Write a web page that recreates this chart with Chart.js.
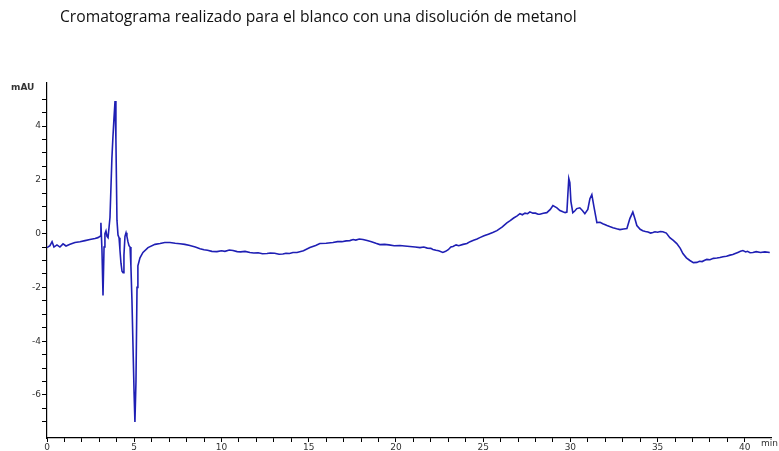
<!DOCTYPE html>
<html>
<head>
<meta charset="utf-8">
<script src="https://cdn.jsdelivr.net/npm/chart.js@4"></script>
<style>
  html, body { margin: 0; padding: 0; background: #fff; }
  #wrap { width: 779px; height: 451px; }
</style>
</head>
<body>
<div id="wrap"><canvas id="chroma"></canvas></div>
<script>
const title = 'Cromatograma realizado para el blanco con una disolución de metanol';
const yUnit = 'mAU';
const xUnit = 'min';
const xTickLabels = [0, 5, 10, 15, 20, 25, 30, 35, 40];
const yTickLabels = [-6, -4, -2, 0, 2, 4];

// retention time (min) and absorbance (mAU)
const times = [
  0.00, 0.17, 0.29, 0.40, 0.57, 0.74, 0.92, 1.09, 1.32, 1.60, 1.89, 2.18, 2.46, 2.75, 2.92,
  3.04, 3.09, 3.15, 3.21, 3.27, 3.32, 3.38, 3.44, 3.50, 3.61, 3.72, 3.78, 3.84, 3.90, 3.95,
  4.01, 4.07, 4.13, 4.18, 4.24, 4.30, 4.36, 4.41, 4.47, 4.53, 4.58, 4.64, 4.70, 4.76, 4.81,
  4.87, 4.93, 4.99, 5.04, 5.10, 5.16, 5.21, 5.33, 5.50, 5.79, 6.19, 6.48, 6.75, 7.05, 7.35,
  7.62, 7.90, 8.19, 8.50, 8.77, 9.00, 9.20, 9.45, 9.74, 10.00, 10.20, 10.45, 10.66, 10.90,
  11.10, 11.35, 11.63, 11.85, 12.10, 12.35, 12.61, 12.80, 13.05, 13.30, 13.52, 13.70, 13.90,
  14.10, 14.33, 14.70, 15.07, 15.40, 15.64, 16.00, 16.39, 16.65, 16.90, 17.15, 17.36, 17.55,
  17.70, 17.90, 18.11, 18.35, 18.60, 18.85, 19.08, 19.35, 19.60, 19.90, 20.23, 20.50, 20.80,
  21.10, 21.38, 21.60, 21.80, 22.00, 22.12, 22.30, 22.45, 22.69, 22.85, 23.00, 23.15, 23.27,
  23.45, 23.60, 23.85, 24.07, 24.25, 24.45, 24.65, 24.81, 25.05, 25.30, 25.55, 25.79, 26.10,
  26.36, 26.55, 26.75, 26.95, 27.11, 27.25, 27.40, 27.55, 27.68, 27.85, 28.00, 28.15, 28.25,
  28.45, 28.65, 28.85, 29.00, 29.23, 29.40, 29.57, 29.70, 29.80, 29.86, 29.91, 29.97, 30.03,
  30.14, 30.25, 30.37, 30.54, 30.70, 30.83, 31.00, 31.12, 31.23, 31.35, 31.52, 31.70, 31.86,
  32.00, 32.10, 32.25, 32.44, 32.65, 32.84, 33.05, 33.24, 33.41, 33.58, 33.70, 33.81, 34.00,
  34.15, 34.30, 34.45, 34.60, 34.73, 34.85, 35.00, 35.15, 35.30, 35.50, 35.70, 35.90, 36.10,
  36.30, 36.45, 36.65, 36.85, 37.05, 37.25, 37.40, 37.55, 37.70, 37.82, 38.00, 38.20, 38.40,
  38.57, 38.75, 38.95, 39.15, 39.31, 39.45, 39.60, 39.75, 39.89, 40.05, 40.15, 40.30, 40.46,
  40.65, 40.90, 41.15, 41.43
];
const mau = [
  -0.52, -0.45, -0.30, -0.50, -0.42, -0.50, -0.38, -0.46, -0.40, -0.33, -0.30, -0.26, -0.22, -0.18, -0.15,
  -0.10, 0.40, -0.60, -2.30, -0.50, 0.00, 0.10, -0.10, -0.15, 0.60, 2.80, 3.60, 4.30, 4.93, 3.50,
  0.50, -0.05, -0.15, -0.60, -1.10, -1.40, -1.45, -0.80, -0.10, 0.03, -0.10, -0.30, -0.45, -0.50, -1.20,
  -2.50, -4.20, -5.90, -7.00, -5.50, -2.00, -1.20, -0.90, -0.70, -0.52, -0.40, -0.37, -0.33, -0.33, -0.36,
  -0.38, -0.40, -0.44, -0.50, -0.56, -0.60, -0.62, -0.66, -0.67, -0.64, -0.66, -0.61, -0.63, -0.67,
  -0.68, -0.66, -0.70, -0.72, -0.71, -0.75, -0.74, -0.72, -0.73, -0.77, -0.76, -0.73, -0.74,
  -0.70, -0.70, -0.64, -0.52, -0.44, -0.37, -0.36, -0.33, -0.30, -0.30, -0.27, -0.26, -0.22,
  -0.24, -0.20, -0.22, -0.26, -0.30, -0.36, -0.41, -0.40, -0.42, -0.45, -0.44, -0.46, -0.48,
  -0.50, -0.52, -0.50, -0.54, -0.55, -0.59, -0.62, -0.64, -0.70, -0.66, -0.60, -0.50, -0.48,
  -0.42, -0.45, -0.40, -0.37, -0.30, -0.25, -0.20, -0.15, -0.08, -0.02, 0.04, 0.11, 0.25,
  0.40, 0.48, 0.58, 0.66, 0.74, 0.70, 0.76, 0.74, 0.81, 0.76, 0.76, 0.72, 0.72,
  0.76, 0.78, 0.90, 1.04, 0.96, 0.86, 0.81, 0.78, 0.80, 1.50, 2.05, 1.90, 1.20,
  0.78, 0.84, 0.93, 0.96, 0.85, 0.74, 0.90, 1.30, 1.45, 1.00, 0.41, 0.42, 0.37,
  0.33, 0.30, 0.26, 0.22, 0.18, 0.15, 0.17, 0.19, 0.56, 0.80, 0.55, 0.30, 0.16,
  0.11, 0.08, 0.06, 0.02, 0.04, 0.07, 0.05, 0.08, 0.07, 0.02, -0.15, -0.25, -0.37,
  -0.55, -0.74, -0.90, -1.00, -1.08, -1.07, -1.03, -1.04, -0.99, -0.96, -0.97, -0.92, -0.91,
  -0.89, -0.86, -0.84, -0.80, -0.78, -0.74, -0.70, -0.66, -0.63, -0.68, -0.66, -0.71, -0.70,
  -0.67, -0.70, -0.68, -0.70
];

const points = times.map((t, i) => ({ x: t, y: mau[i] }));

const labelsPlugin = {
  id: 'labels',
  afterDraw(chart) {
    const c = chart.ctx;
    const area = chart.chartArea;
    c.save();
    c.fillStyle = '#111';
    let size = 13;
    c.font = size + 'px "Open Sans"';
    const w = c.measureText(title).width;
    size = size * 517 / w;
    c.font = size + 'px "Open Sans"';
    c.textBaseline = 'middle';
    c.textAlign = 'left';
    c.fillText(title, 60, 18);
    c.fillStyle = '#333';
    c.font = 'bold 9px "DejaVu Sans"';
    c.fillText(yUnit, 11, area.top + 5);
    c.font = '9px "DejaVu Sans"';
    c.fillText(xUnit, 761, area.bottom + 6);
    c.restore();
  }
};

new Chart(document.getElementById('chroma').getContext('2d'), {
  type: 'line',
  data: {
    datasets: [{
      data: points,
      borderColor: '#1f1fb4',
      borderWidth: 1.6,
      pointRadius: 0,
      tension: 0,
      fill: false
    }]
  },
  options: {
    responsive: true,
    maintainAspectRatio: false,
    animation: false,
    layout: { padding: { left: 0, right: 8, top: 83, bottom: 0 } },
    plugins: {
      legend: { display: false },
      tooltip: { enabled: false }
    },
    scales: {
      x: {
        type: 'linear',
        min: 0,
        max: 41.5,
        afterBuildTicks: s => { s.ticks = s.ticks.filter(t => Number.isInteger(t.value)); },
        afterFit: s => { s.height = 13; },
        border: { color: '#000', width: 1.2 },
        grid: { drawOnChartArea: false, tickLength: 4, color: '#000' },
        ticks: {
          stepSize: 1,
          autoSkip: false,
          maxRotation: 0,
          padding: 0,
          color: '#333',
          font: { family: 'DejaVu Sans', size: 9 },
          callback: v => xTickLabels.includes(v) ? String(v) : ''
        }
      },
      y: {
        min: -7.6,
        max: 5.6,
        afterBuildTicks: s => { s.ticks = s.ticks.filter(t => Math.abs(t.value * 2 - Math.round(t.value * 2)) < 1e-6); },
        afterFit: s => { s.width = 47; },
        border: { color: '#000', width: 1.2 },
        grid: { drawOnChartArea: false, tickLength: 5, color: '#000' },
        ticks: {
          stepSize: 0.5,
          autoSkip: false,
          padding: 1,
          color: '#333',
          font: { family: 'DejaVu Sans', size: 9 },
          callback: v => yTickLabels.includes(v) ? String(v) : ''
        }
      }
    }
  },
  plugins: [labelsPlugin]
});
</script>
</body>
</html>
